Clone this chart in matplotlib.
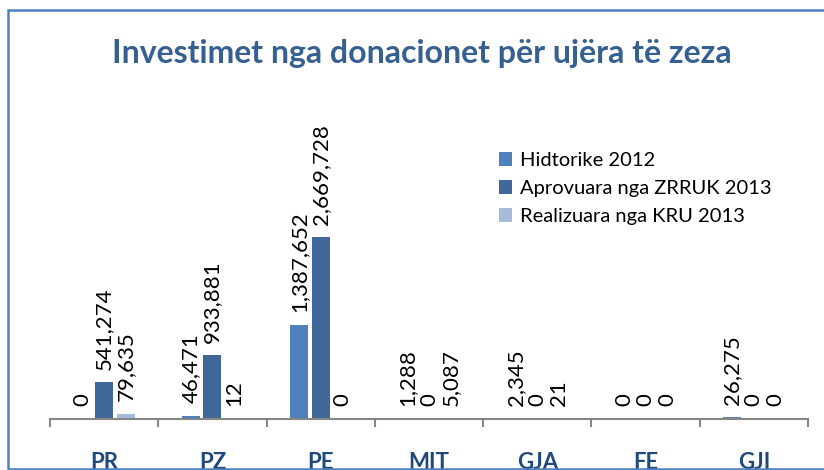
import matplotlib
matplotlib.use('Agg')
import matplotlib.pyplot as plt
from matplotlib.patches import Rectangle
import numpy as np

plt.rcParams['font.family'] = ['Lato', 'DejaVu Sans']

categories = ['PR', 'PZ', 'PE', 'MIT', 'GJA', 'FE', 'GJI']
series_names = ['Hidtorike 2012', 'Aprovuara nga ZRRUK 2013', 'Realizuara nga KRU 2013']
hidtorike_2012 = [0, 46471, 1387652, 1288, 2345, 0, 26275]
aprovuara_2013 = [541274, 933881, 2669728, 0, 0, 0, 0]
realizuara_2013 = [79635, 12, 0, 5087, 21, 0, 0]
colors = ['#4F81BD', '#3F6899', '#A8BAD9']

fig = plt.figure(figsize=(8.24, 4.70), dpi=100)
ax = fig.add_axes([50 / 824, 51 / 470, 758 / 824, 272 / 470])

x = np.arange(len(categories))
width = 0.167
offsets = [-0.2, 0.0, 0.2]
for vals, off, col, name in zip([hidtorike_2012, aprovuara_2013, realizuara_2013], offsets, colors, series_names):
    bars = ax.bar(x + off, vals, width, color=col, label=name)
    for b, v in zip(bars, vals):
        ax.annotate(f'{v:,}', (b.get_x() + b.get_width() / 2, v), xytext=(0, 9),
                    textcoords='offset points', rotation=90, ha='center', va='bottom',
                    fontsize=16, color='black', annotation_clip=False)

ax.set_xlim(-0.5, len(categories) - 0.5)
ax.set_ylim(0, 4000000)
for s in ['top', 'right', 'left']:
    ax.spines[s].set_visible(False)
ax.spines['bottom'].set_color('#868686')
ax.spines['bottom'].set_linewidth(1.5)
ax.set_yticks([])
ax.set_xticks(x)
ax.set_xticklabels(categories, fontsize=16, fontweight='bold', color='#1F497D')
ax.tick_params(axis='x', which='major', length=0, pad=24)
ax.set_xticks(np.arange(-0.5, len(categories), 1.0), minor=True)
ax.tick_params(axis='x', which='minor', length=6, width=1.5, color='#868686', direction='out')

fig.text(422 / 824, 1 - 63 / 470, 'Investimet nga donacionet për ujëra të zeza',
         ha='center', va='baseline', fontsize=23, fontweight='bold', color='#376092')

ax.legend(loc='upper left', bbox_to_anchor=(481 / 824, 1 - 134 / 470), bbox_transform=fig.transFigure,
          frameon=False, fontsize=14.5, handlelength=0.65, handleheight=0.65, handletextpad=0.4,
          labelspacing=0.55)

fig.add_artist(Rectangle((8 / 824, 1 - 469 / 470), 1.0, 459 / 470, transform=fig.transFigure,
                         fill=False, edgecolor='#4F81BD', linewidth=1.8))

fig.savefig('out.png', dpi=100)
